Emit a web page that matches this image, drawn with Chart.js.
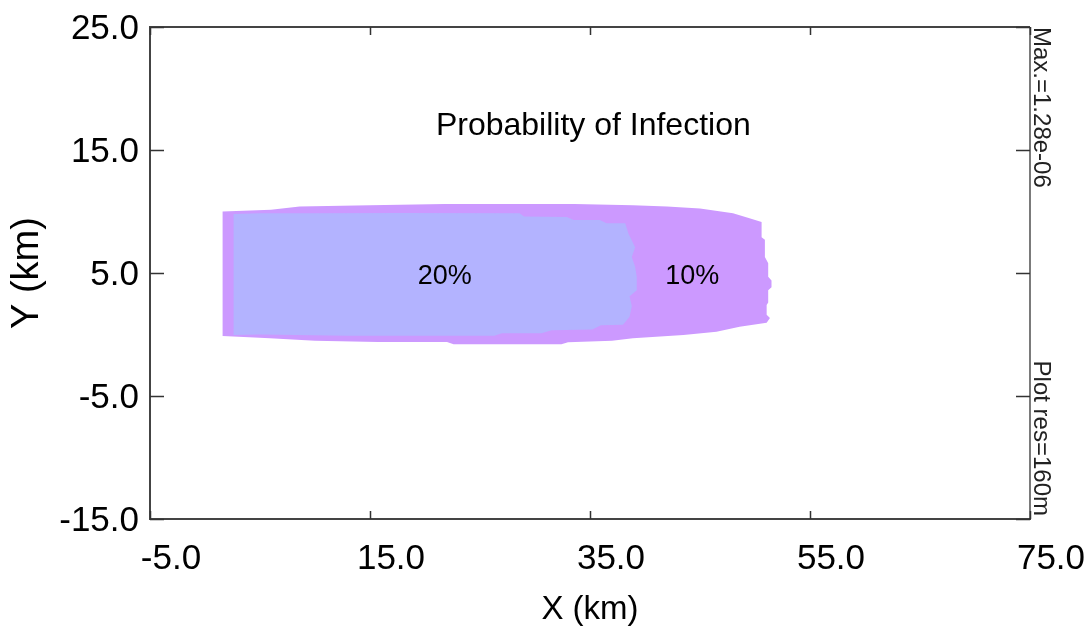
<!DOCTYPE html>
<html>
<head>
<meta charset="utf-8">
<script src="https://cdn.jsdelivr.net/npm/chart.js@4.4.1/dist/chart.umd.min.js"></script>
<style>
  html, body { margin: 0; padding: 0; background: #ffffff; }
  #wrap { width: 1087px; height: 633px; position: relative; }
</style>
</head>
<body>
<div id="wrap"><canvas id="c"></canvas></div>
<script>
// ---- data ----
const xTicks = [-5, 15, 35, 55, 75];
const yTicks = [-15, -5, 5, 15, 25];
const contourLabels = ['20%', '10%'];
const contourColors = ['#b3b3ff', '#cc99ff'];
// 20% contour outline (km)
const inner20X = [2.6, 5.0, 10.0, 17.7, 28.6, 29.0, 32.9, 33.5, 35.9, 36.5, 38.2, 38.5, 39.1, 38.8, 39.1, 39.25, 39.25, 38.6, 38.8, 38.6, 38.0, 36.0, 35.2, 31.5, 30.6, 27.0, 26.3, 13.0, 5.0, 2.6, 2.6];
const inner20Y = [9.8, 9.85, 9.85, 9.88, 9.85, 9.6, 9.55, 9.3, 9.3, 9.05, 9.05, 8.2, 7.1, 6.3, 5.5, 4.7, 3.6, 3.1, 2.3, 1.45, 0.8, 0.75, 0.4, 0.35, 0.1, 0.1, -0.1, -0.1, 0.0, -0.05, 9.8];
// 10% contour outline (km)
const outer10X = [1.6, 6.0, 8.6, 15.0, 21.8, 33.6, 38.9, 42.0, 45.0, 48.0, 49.5, 50.6, 50.6, 50.9, 50.9, 51.2, 51.2, 51.5, 51.5, 51.2, 51.2, 51.06, 51.06, 51.36, 51.06, 48.6, 46.5, 43.5, 38.9, 37.0, 33.0, 32.4, 22.6, 22.0, 15.7, 10.0, 5.9, 1.6, 1.6];
const outer10Y = [10.0, 10.15, 10.4, 10.5, 10.6, 10.6, 10.5, 10.4, 10.25, 9.85, 9.45, 9.15, 7.9, 7.7, 6.3, 5.8, 4.7, 4.4, 3.85, 3.6, 2.6, 2.4, 1.6, 1.35, 0.95, 0.63, 0.23, -0.04, -0.3, -0.5, -0.63, -0.8, -0.8, -0.6, -0.6, -0.5, -0.3, -0.13, 10.0];
// label anchor positions (km)
const labelX = [21.8, 44.3];
const labelY = [4.7, 4.7];
const chartTitle = 'Probability of Infection';
const xTitle = 'X (km)';
const yTitle = 'Y (km)';
const sideTop = 'Max.=1.28e-06';
const sideBottom = 'Plot res=160m';

const FONT = "'Liberation Sans', Arial, sans-serif";

function pts(xs, ys) { return xs.map((x, i) => ({ x: x, y: ys[i] })); }
function noPad(s) { s.paddingTop = 0; s.paddingBottom = 0; s.paddingLeft = 0; s.paddingRight = 0; }

const overlay = {
  id: 'overlay',
  afterDatasetsDraw(chart) {
    const ctx = chart.ctx;
    const xs = chart.scales.x, ys = chart.scales.y;
    ctx.save();
    ctx.fillStyle = '#000';
    ctx.font = '27px ' + FONT;
    ctx.textAlign = 'center';
    ctx.textBaseline = 'middle';
    contourLabels.forEach((t, i) => {
      ctx.fillText(t, xs.getPixelForValue(labelX[i]), ys.getPixelForValue(labelY[i]));
    });
    ctx.font = '32px ' + FONT;
    ctx.fillText(chartTitle, xs.getPixelForValue(35.3), ys.getPixelForValue(16.95));
    ctx.restore();
  },
  afterDraw(chart) {
    const ctx = chart.ctx;
    const xs = chart.scales.x, ys = chart.scales.y;
    const a = chart.chartArea;
    ctx.save();
    ctx.strokeStyle = '#444';
    ctx.lineWidth = 2;
    ctx.beginPath();
    ctx.moveTo(a.left, a.top); ctx.lineTo(a.right, a.top);
    ctx.stroke();
    ctx.lineWidth = 1.2;
    ctx.strokeStyle = '#222';
    ctx.beginPath();
    ctx.moveTo(a.right, a.top); ctx.lineTo(a.right, a.bottom);
    ctx.stroke();
    // inward tick marks
    ctx.strokeStyle = '#333';
    ctx.lineWidth = 1.5;
    ctx.beginPath();
    xTicks.forEach(v => {
      const px = Math.round(xs.getPixelForValue(v)) + 0.5;
      ctx.moveTo(px, a.top); ctx.lineTo(px, a.top + 8);
      ctx.moveTo(px, a.bottom); ctx.lineTo(px, a.bottom - 8);
    });
    yTicks.forEach(v => {
      const py = Math.round(ys.getPixelForValue(v)) + 0.5;
      ctx.moveTo(a.left, py); ctx.lineTo(a.left + 14, py);
      ctx.moveTo(a.right, py); ctx.lineTo(a.right - 14, py);
    });
    ctx.stroke();
    // side notes (rotated clockwise)
    ctx.fillStyle = '#222';
    ctx.font = '24px ' + FONT;
    ctx.textBaseline = 'alphabetic';
    ctx.save();
    ctx.translate(a.right + 4, a.top);
    ctx.rotate(Math.PI / 2);
    ctx.textAlign = 'left';
    ctx.fillText(sideTop, 0, 0);
    ctx.restore();
    ctx.save();
    ctx.translate(a.right + 4, a.bottom - 3);
    ctx.rotate(Math.PI / 2);
    ctx.textAlign = 'right';
    ctx.fillText(sideBottom, 0, 0);
    ctx.restore();
    ctx.restore();
  }
};

new Chart(document.getElementById('c'), {
  type: 'line',
  data: {
    datasets: [
      {
        label: contourLabels[0],
        data: pts(inner20X, inner20Y),
        backgroundColor: contourColors[0],
        borderColor: contourColors[0],
        borderWidth: 0,
        pointRadius: 0,
        fill: 'shape',
        tension: 0
      },
      {
        label: contourLabels[1],
        data: pts(outer10X, outer10Y),
        backgroundColor: contourColors[1],
        borderColor: contourColors[1],
        borderWidth: 0,
        pointRadius: 0,
        fill: 'shape',
        tension: 0
      }
    ]
  },
  options: {
    responsive: true,
    maintainAspectRatio: false,
    animation: false,
    layout: { padding: { top: 27, right: 57, left: 0, bottom: 0 } },
    plugins: {
      legend: { display: false },
      tooltip: { enabled: false },
      title: { display: false }
    },
    scales: {
      x: {
        type: 'linear',
        position: 'bottom',
        min: -5, max: 75,
        afterFit: s => { s.height = 114; noPad(s); },
        afterBuildTicks: s => { s.ticks = xTicks.map(v => ({ value: v })); },
        grid: { display: false, drawTicks: false },
        border: { display: true, color: '#444', width: 2 },
        ticks: {
          color: '#000',
          font: { family: FONT, size: 35, lineHeight: 1.2 },
          padding: 19,
          labelOffset: 21,
          maxRotation: 0,
          autoSkip: false,
          callback: v => Number(v).toFixed(1)
        },
        title: {
          display: true,
          text: xTitle,
          color: '#000',
          font: { family: FONT, size: 33, lineHeight: 1.2 },
          padding: { top: 0, bottom: 3 }
        }
      },
      y: {
        type: 'linear',
        position: 'left',
        min: -15, max: 25,
        afterFit: s => { s.width = 150; noPad(s); },
        afterBuildTicks: s => { s.ticks = yTicks.map(v => ({ value: v })); },
        grid: { display: false, drawTicks: false },
        border: { display: true, color: '#444', width: 2 },
        ticks: {
          color: '#000',
          font: { family: FONT, size: 35, lineHeight: 1.2 },
          padding: 11,
          labelOffset: 2,
          autoSkip: false,
          callback: v => Number(v).toFixed(1)
        },
        title: {
          display: true,
          text: yTitle,
          color: '#000',
          font: { family: FONT, size: 38, lineHeight: 1.2 },
          padding: { top: 5, bottom: 0 }
        }
      }
    }
  },
  plugins: [overlay]
});
</script>
</body>
</html>
